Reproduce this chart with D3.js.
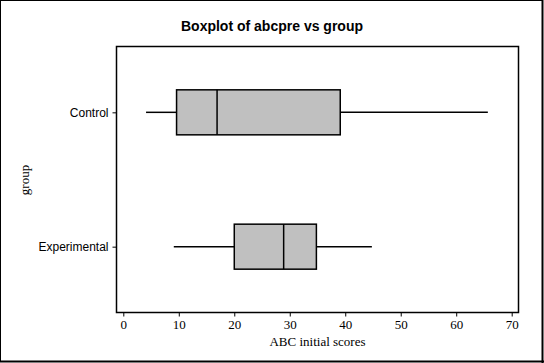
<!DOCTYPE html>
<html>
<head>
<meta charset="utf-8">
<script src="https://cdn.jsdelivr.net/npm/d3@7"></script>
<style>
  body { margin: 0; background: #fff; }
  svg { display: block; }
</style>
</head>
<body>
<div id="main"></div>
<script>
// group stats
var groups = ["Control", "Experimental"];
var whiskerLow = [4.1, 9.1];
var q1 = [9.6, 20];
var median = [16.9, 28.9];
var q3 = [39.1, 34.8];
var whiskerHigh = [65.7, 44.8];
var xTicks = [0, 10, 20, 30, 40, 50, 60, 70];

var W = 544, H = 363;
var frame = {left: 116.5, right: 518.5, top: 46.5, bottom: 312.5};
var boxH = 45;

var svg = d3.select("#main").append("svg")
    .attr("width", W)
    .attr("height", H);

// outer border
svg.append("rect").attr("x", 0.5).attr("y", 0.5).attr("width", W - 2).attr("height", H - 2)
    .attr("fill", "#fff").attr("stroke", "#000").attr("stroke-width", 1);
svg.append("line").attr("x1", 542.5).attr("x2", 542.5).attr("y1", 0).attr("y2", 363).attr("stroke", "#000").attr("stroke-width", 2);
svg.append("line").attr("x1", 0).attr("x2", 544).attr("y1", 361.5).attr("y2", 361.5).attr("stroke", "#000").attr("stroke-width", 2);

var x = d3.scaleLinear()
    .domain([0, 70])
    .range([123.3, 511.7]);

var y = d3.scalePoint()
    .domain(groups)
    .range([frame.top, frame.bottom])
    .padding(0.49);

// title
svg.append("text")
    .attr("x", 272).attr("y", 31)
    .attr("text-anchor", "middle")
    .style("font-family", "'Liberation Sans', Arial, sans-serif")
    .style("font-weight", "bold")
    .style("font-size", "14px")
    .text("Boxplot of abcpre vs group");

// axes
var xAxis = d3.axisBottom(x).tickValues(xTicks).tickSize(4).tickPadding(3);
var gx = svg.append("g")
    .attr("transform", "translate(0," + frame.bottom + ")")
    .call(xAxis);
gx.select(".domain").remove();
gx.selectAll("text")
    .style("font-family", "'Liberation Serif', 'Times New Roman', serif")
    .style("font-size", "13px")
    .attr("fill", "#000");

var yAxis = d3.axisLeft(y).tickSize(4).tickPadding(4);
var gy = svg.append("g")
    .attr("transform", "translate(" + frame.left + ",0)")
    .call(yAxis);
gy.select(".domain").remove();
gy.selectAll("text")
    .style("font-family", "'Liberation Sans', Arial, sans-serif")
    .style("font-size", "12px")
    .attr("fill", "#000");

// plot frame
svg.append("rect")
    .attr("x", frame.left).attr("y", frame.top)
    .attr("width", frame.right - frame.left)
    .attr("height", frame.bottom - frame.top)
    .attr("fill", "none").attr("stroke", "#000").attr("stroke-width", 1.5);

// axis titles
svg.append("text")
    .attr("x", (frame.left + frame.right) / 2).attr("y", 346)
    .attr("text-anchor", "middle")
    .style("font-family", "'Liberation Serif', 'Times New Roman', serif")
    .style("font-size", "13px")
    .text("ABC initial scores");

svg.append("text")
    .attr("transform", "translate(29," + 180 + ") rotate(-90)")
    .attr("text-anchor", "middle")
    .style("font-family", "'Liberation Serif', 'Times New Roman', serif")
    .style("font-size", "13px")
    .text("group");

// boxes
var bp = svg.selectAll(".bp")
    .data(groups)
    .enter().append("g")
    .attr("class", "bp");

bp.append("line")
    .attr("x1", function(d, i) { return x(whiskerLow[i]); })
    .attr("x2", function(d, i) { return x(q1[i]); })
    .attr("y1", function(d) { return y(d); })
    .attr("y2", function(d) { return y(d); })
    .attr("stroke", "#000").attr("stroke-width", 1.5);

bp.append("line")
    .attr("x1", function(d, i) { return x(q3[i]); })
    .attr("x2", function(d, i) { return x(whiskerHigh[i]); })
    .attr("y1", function(d) { return y(d); })
    .attr("y2", function(d) { return y(d); })
    .attr("stroke", "#000").attr("stroke-width", 1.5);

bp.append("rect")
    .attr("x", function(d, i) { return x(q1[i]); })
    .attr("width", function(d, i) { return x(q3[i]) - x(q1[i]); })
    .attr("y", function(d) { return y(d) - boxH / 2; })
    .attr("height", boxH)
    .attr("fill", "#c0c0c0").attr("stroke", "#000").attr("stroke-width", 1.5);

bp.append("line")
    .attr("x1", function(d, i) { return x(median[i]); })
    .attr("x2", function(d, i) { return x(median[i]); })
    .attr("y1", function(d) { return y(d) - boxH / 2; })
    .attr("y2", function(d) { return y(d) + boxH / 2; })
    .attr("stroke", "#000").attr("stroke-width", 1.5);
</script>
</body>
</html>
